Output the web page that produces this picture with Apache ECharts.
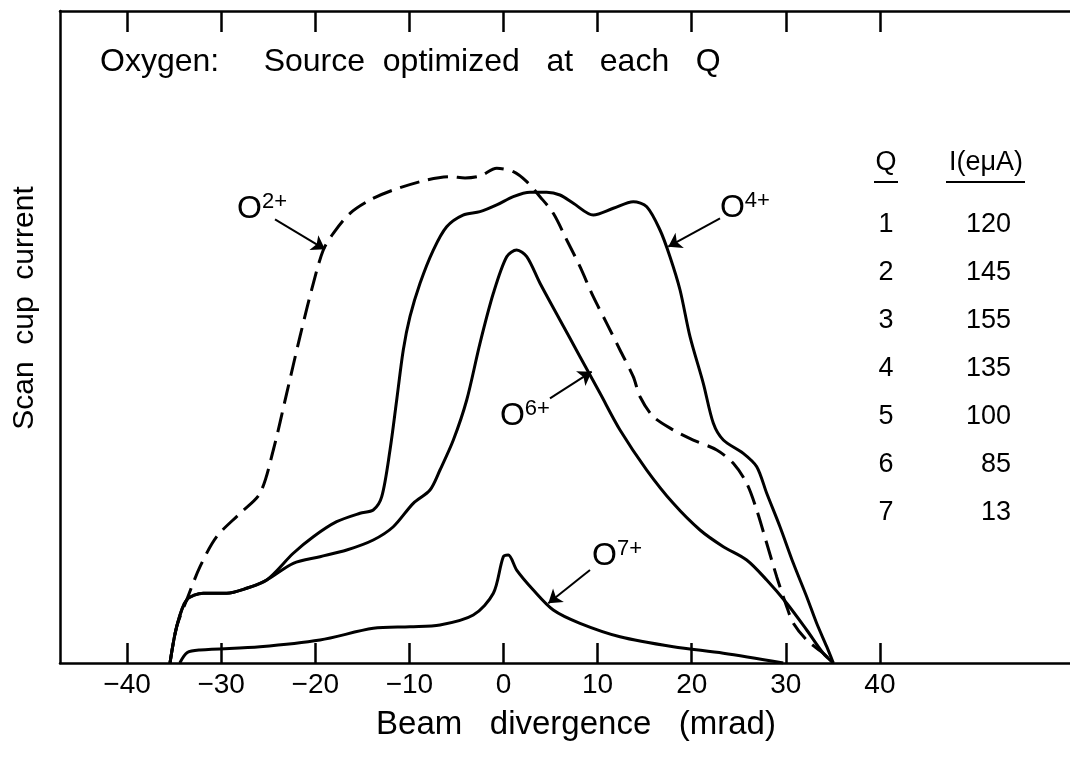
<!DOCTYPE html>
<html><head><meta charset="utf-8">
<script src="https://cdn.jsdelivr.net/npm/echarts@6/dist/echarts.min.js"></script>
<style>html,body{margin:0;padding:0;background:#fff}#c{width:1070px;height:757px}</style>
</head><body><div id="c"></div>
<script>
// ---- data (beam divergence in mrad, scan cup current in arbitrary units) ----
const xTicks = [-40, -30, -20, -10, 0, 10, 20, 30, 40];
const o2Data = [[-35.44,0],[-34.73,5.57],[-33.67,9.66],[-32.25,14.77],[-30.48,19.37],[-28.00,22.96],[-25.88,26.03],[-24.46,32.67],[-23.04,41.36],[-21.63,50.05],[-20.21,58.24],[-19.15,63.34],[-18.09,65.90],[-16.31,68.97],[-14.19,71.01],[-11.71,72.55],[-8.16,74.08],[-5.69,74.59],[-4.09,74.39],[-2.50,74.69],[-0.72,75.87],[1.04,75.35],[2.47,73.82],[3.88,71.52],[5.29,68.97],[6.72,64.88],[8.13,60.78],[9.54,56.18],[10.97,52.10],[12.38,48.01],[13.79,43.91],[14.51,40.84],[15.92,37.78],[18.04,35.74],[20.17,34.20],[22.66,32.67],[24.42,30.63],[25.84,27.56],[26.91,23.47],[27.97,18.36],[29.03,13.24],[30.10,8.63],[30.80,6.09],[32.22,3.53],[33.98,1.49],[35.05,0]];
const o4Data = [[-35.44,0],[-34.73,5.57],[-33.67,9.66],[-31.90,10.69],[-29.42,10.69],[-27.29,11.46],[-25.16,12.73],[-22.34,16.83],[-20.21,19.37],[-17.73,21.67],[-15.25,22.96],[-13.84,23.47],[-12.94,25.51],[-12.06,32.67],[-11.35,40.34],[-10.65,48.01],[-9.94,53.11],[-8.87,58.24],[-7.46,63.34],[-6.04,66.92],[-4.30,68.71],[-2.50,69.22],[-0.72,70.25],[1.04,71.52],[2.82,72.19],[4.59,72.19],[6.00,71.78],[7.42,70.51],[9.54,68.71],[11.67,69.74],[13.79,70.75],[15.22,69.98],[16.63,66.41],[17.69,62.32],[18.76,57.21],[19.82,50.05],[21.23,42.90],[22.30,36.76],[23.36,34.20],[25.48,32.16],[26.91,30.11],[27.97,26.03],[29.38,20.90],[30.80,15.29],[32.22,10.17],[33.28,6.09],[34.35,2.50],[35.05,0]];
const o6Data = [[-35.44,0],[-34.73,5.57],[-33.67,9.66],[-31.90,10.69],[-29.42,10.69],[-27.29,11.46],[-25.16,12.73],[-22.34,15.29],[-19.50,16.30],[-16.66,17.33],[-13.84,18.87],[-11.71,20.90],[-9.59,24.49],[-7.81,26.53],[-6.75,29.60],[-5.33,34.20],[-3.91,40.34],[-2.50,49.03],[-1.08,56.70],[0.34,62.32],[1.40,63.34],[2.47,62.32],[3.88,58.24],[6.00,52.61],[8.13,46.98],[10.26,41.36],[12.38,35.74],[15.22,29.60],[18.04,24.49],[20.88,20.40],[23.36,17.84],[25.84,15.80],[27.97,12.73],[30.10,9.16],[32.22,5.06],[33.98,1.49],[35.05,0]];
const o7Data = [[-34.40,0],[-33.60,1.60],[-32.25,1.99],[-25.88,2.50],[-19.50,3.53],[-13.84,5.32],[-9.94,5.57],[-6.75,5.83],[-3.21,7.36],[-1.08,10.69],[-0.02,16.30],[0.51,16.56],[1.40,14.26],[3.17,11.20],[5.29,8.13],[8.13,6.09],[12.38,4.03],[18.04,2.50],[23.36,1.49],[29.73,0]];
const qValues = [1, 2, 3, 4, 5, 6, 7];
const currentValues = [120, 145, 155, 135, 100, 85, 13];
// ion labels: charge state and label anchor (data units)
const ionNames = ['2+', '4+', '6+', '7+'];
const ionLabelAt = [[-25.66, 69.79], [25.66, 69.94], [2.28, 38.04], [12.06, 16.56]];
// arrows: [from, to] in data units
const ionArrows = [
  [[-24.28, 68.05], [-18.97, 63.45]],
  [[23.01, 68.21], [17.51, 63.85]],
  [[4.94, 40.60], [9.37, 44.68]],
  [[9.19, 14.26], [4.76, 9.16]]
];

const FONT = '"Liberation Sans", Arial, Helvetica, sans-serif';
const chart = echarts.init(document.getElementById('c'), null, {renderer: 'canvas'});

function lineSeries(name, data, dashed) {
  return {
    name, type: 'line', data, smooth: 0.3, symbol: 'none', showSymbol: false,
    lineStyle: {color: '#000', width: 3, type: dashed ? [20, 9] : 'solid'},
    z: 3, silent: true
  };
}
function txt(x, y, text, size, align, rot) {
  const g = {type: 'text', x, y, style: {text, fontSize: size, fontFamily: FONT, fill: '#000',
    align, verticalAlign: 'middle', textAlign: align, textVerticalAlign: 'middle'}};
  if (rot) g.rotation = rot;
  return g;
}

const graphics = [];
graphics.push(txt(100, 62, 'Oxygen:     Source  optimized   at   each   Q', 32, 'left'));
graphics.push(txt(25, 308, 'Scan  cup  current', 30, 'center', Math.PI / 2));
graphics.push(txt(576, 725, 'Beam   divergence   (mrad)', 33, 'center'));
// table
graphics.push(txt(886, 163, 'Q', 27, 'center'));
graphics.push(txt(986, 163, 'I(eμA)', 27, 'center'));
graphics.push({type: 'line', shape: {x1: 874, y1: 182, x2: 898, y2: 182}, style: {stroke: '#000', lineWidth: 2}});
graphics.push({type: 'line', shape: {x1: 946, y1: 182, x2: 1025, y2: 182}, style: {stroke: '#000', lineWidth: 2}});
qValues.forEach((q, i) => {
  const y = 225 + i * 48;
  graphics.push(txt(886, y, String(q), 27, 'center'));
  graphics.push(txt(1011, y, String(currentValues[i]), 27, 'right'));
});

const option = {
  backgroundColor: '#fff',
  animation: false,
  grid: {left: 60, right: 0, top: 11, bottom: 94, containLabel: false},
  xAxis: [{
    type: 'value', min: -47.13, max: 60.2, position: 'bottom',
    axisLine: {show: true, onZero: false, lineStyle: {color: '#000', width: 2.5}},
    axisTick: {show: true, inside: true, length: 20, customValues: xTicks, lineStyle: {color: '#000', width: 2.5}},
    axisLabel: {show: true, customValues: xTicks, margin: 8, color: '#000', fontSize: 28, fontFamily: FONT,
      formatter: v => v < 0 ? '\u2212' + Math.abs(v) : String(v)},
    splitLine: {show: false}
  }, {
    type: 'value', min: -47.13, max: 60.2, position: 'top',
    axisLine: {show: true, onZero: false, lineStyle: {color: '#000', width: 2.5}},
    axisTick: {show: true, inside: true, length: 21, customValues: xTicks, lineStyle: {color: '#000', width: 2.5}},
    axisLabel: {show: false}, splitLine: {show: false}
  }],
  yAxis: {
    type: 'value', min: 0, max: 100,
    axisLine: {show: true, onZero: false, lineStyle: {color: '#000', width: 2.5}},
    axisTick: {show: false}, axisLabel: {show: false}, splitLine: {show: false}
  },
  graphic: graphics,
  series: [
    lineSeries('O2+', o2Data, true),
    lineSeries('O4+', o4Data, false),
    lineSeries('O6+', o6Data, false),
    lineSeries('O7+', o7Data, false),
    {
      type: 'lines', coordinateSystem: 'cartesian2d', polyline: false, silent: true, z: 4,
      symbol: ['none', 'arrow'], symbolSize: [1, 13],
      lineStyle: {color: '#000', width: 2, opacity: 1},
      data: ionArrows.map(a => ({coords: a}))
    },
    {
      type: 'scatter', symbolSize: 0, silent: true, z: 5,
      itemStyle: {color: '#000', opacity: 1},
      data: ionLabelAt.map((p, i) => ({value: p, name: ionNames[i]})),
      label: {
        show: true, position: 'inside', color: '#000', opacity: 1, textBorderWidth: 0,
        formatter: p => '{o|O}{s|' + p.name + '}',
        rich: {
          o: {fontSize: 32, fontFamily: FONT, color: '#000', lineHeight: 34, verticalAlign: 'bottom', textBorderWidth: 0},
          s: {fontSize: 22, fontFamily: FONT, color: '#000', lineHeight: 22, verticalAlign: 'top', textBorderWidth: 0}
        }
      }
    }
  ]
};
chart.setOption(option);
</script>
</body></html>
